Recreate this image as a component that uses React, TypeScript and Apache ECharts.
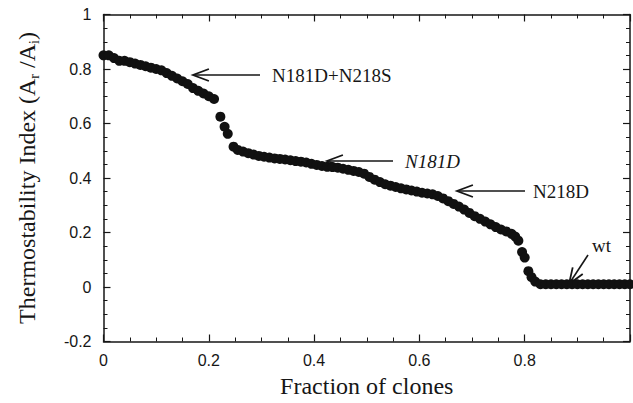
import React, { useEffect, useRef } from "react";
import * as echarts from "echarts";

// Fraction of clones (x) and thermostability index (y)
const fractions: number[] = [
  0, 0.01, 0.02, 0.03, 0.04, 0.05, 0.06, 0.07, 0.08, 0.09, 0.1, 0.11, 0.12, 0.13, 0.14, 0.15, 0.16, 0.17, 0.18, 0.19, 0.2, 0.21,
  0.222, 0.23, 0.236,
  0.247, 0.255, 0.265, 0.275, 0.285, 0.295, 0.305, 0.315, 0.325, 0.335, 0.345, 0.355, 0.365, 0.375, 0.385, 0.395,
  0.405, 0.415, 0.425, 0.435, 0.445, 0.455, 0.465, 0.475, 0.485, 0.495, 0.505, 0.515, 0.525, 0.535, 0.545,
  0.555, 0.565, 0.575, 0.585, 0.595, 0.605, 0.615, 0.625, 0.635, 0.645, 0.655, 0.665, 0.675, 0.685, 0.695,
  0.705, 0.715, 0.725, 0.735, 0.745, 0.755, 0.765, 0.775, 0.782, 0.788,
  0.795, 0.8, 0.807, 0.813, 0.82,
  0.83, 0.84, 0.85, 0.86, 0.87, 0.88, 0.89, 0.9, 0.91, 0.92, 0.93, 0.94, 0.95, 0.96, 0.97, 0.98, 0.99, 1.0,
];
const indexValues: number[] = [
  0.85, 0.85, 0.84, 0.83, 0.83, 0.825, 0.82, 0.815, 0.81, 0.805, 0.8, 0.795, 0.785, 0.775, 0.765, 0.755, 0.745, 0.73, 0.72, 0.71, 0.7, 0.69,
  0.625, 0.588, 0.562,
  0.515, 0.503, 0.497, 0.491, 0.486, 0.481, 0.478, 0.475, 0.472, 0.47, 0.468, 0.465, 0.462, 0.46, 0.457, 0.452,
  0.448, 0.444, 0.441, 0.44, 0.438, 0.434, 0.43, 0.426, 0.422, 0.416, 0.404, 0.394, 0.385, 0.377, 0.372,
  0.367, 0.362, 0.358, 0.354, 0.35, 0.346, 0.343, 0.34, 0.334, 0.325, 0.315, 0.305, 0.295, 0.284, 0.272,
  0.26, 0.25, 0.24, 0.23, 0.22, 0.211, 0.204, 0.195, 0.185, 0.17,
  0.128, 0.108, 0.058, 0.036, 0.02,
  0.01, 0.01, 0.01, 0.01, 0.01, 0.01, 0.01, 0.01, 0.01, 0.01, 0.01, 0.01, 0.01, 0.01, 0.01, 0.01, 0.01, 0.01,
];

const xTitle = "Fraction of clones";
const yTitle = "{a|Thermostability Index (A}{s|r}{a| /A}{s|i}{a|)}";
const annotations = ["N181D+N218S", "N181D", "N218D", "wt"];

const SERIF = "Liberation Serif";
const SANS = "Liberation Sans";
const INK = "#161616";

function arrow(tail: [number, number], tip: [number, number]) {
  const ang = Math.atan2(tip[1] - tail[1], tip[0] - tail[0]);
  const len = 17;
  const spread = 0.36;
  const w1: [number, number] = [tip[0] - len * Math.cos(ang - spread), tip[1] - len * Math.sin(ang - spread)];
  const w2: [number, number] = [tip[0] - len * Math.cos(ang + spread), tip[1] - len * Math.sin(ang + spread)];
  return [
    { type: "line", shape: { x1: tail[0], y1: tail[1], x2: tip[0], y2: tip[1] }, style: { stroke: INK, lineWidth: 1.6 } },
    { type: "polyline", shape: { points: [w1, tip, w2] }, style: { stroke: INK, lineWidth: 1.8, fill: null } },
  ];
}

function label(text: string, x: number, y: number, italic = false) {
  return {
    type: "text",
    x,
    y,
    style: {
      text,
      fontFamily: SERIF,
      fontSize: 19,
      fontStyle: italic ? "italic" : "normal",
      fill: INK,
      verticalAlign: "middle",
    },
  };
}

export default function App() {
  const ref = useRef<HTMLDivElement>(null);
  useEffect(() => {
    if (!ref.current) return;
    const chart = echarts.init(ref.current, undefined, { renderer: "svg" });
    const data = fractions.map((f, i) => [f, indexValues[i]]);
    const axisLine = { show: true, onZero: false, lineStyle: { color: INK, width: 1.5 } };
    const axisTick = { show: true, inside: true, length: 7, lineStyle: { color: INK, width: 1.2 } };
    const minorTick = { show: true, splitNumber: 4, length: 4, lineStyle: { color: INK, width: 1 } };
    chart.setOption({
      animation: false,
      backgroundColor: "#ffffff",
      grid: { left: 103.5, right: 3, top: 14.5, bottom: 55.5 },
      xAxis: [
        {
          type: "value", min: 0, max: 1, interval: 0.2, position: "bottom",
          axisLine, axisTick, minorTick, splitLine: { show: false },
          axisLabel: { show: true, showMaxLabel: false, margin: 11, fontSize: 16, fontFamily: SANS, color: INK },
          name: xTitle, nameLocation: "middle", nameGap: 32.5,
          nameTextStyle: { fontSize: 24, fontFamily: SERIF, color: INK },
        },
        {
          type: "value", min: 0, max: 1, interval: 0.2, position: "top",
          axisLine, axisTick, minorTick, splitLine: { show: false }, axisLabel: { show: false },
        },
      ],
      yAxis: [
        {
          type: "value", min: -0.2, max: 1, interval: 0.2, position: "left",
          axisLine, axisTick, minorTick, splitLine: { show: false },
          axisLabel: { show: true, margin: 12, fontSize: 16, fontFamily: SANS, color: INK },
          name: yTitle, nameLocation: "middle", nameRotate: 90, nameGap: 62,
          nameTextStyle: {
            rich: {
              a: { fontSize: 24, fontFamily: SERIF, color: INK, lineHeight: 30 },
              s: { fontSize: 14, fontFamily: SERIF, color: INK, verticalAlign: "bottom" },
            },
          },
        },
        {
          type: "value", min: -0.2, max: 1, interval: 0.2, position: "right",
          axisLine, axisTick, minorTick, splitLine: { show: false }, axisLabel: { show: false },
        },
      ],
      series: [
        {
          type: "scatter",
          data,
          symbol: "circle",
          symbolSize: 10,
          itemStyle: { color: "#111111", opacity: 1 },
          clip: false,
          silent: true,
        },
      ],
      graphic: [
        ...arrow([260, 75], [193, 75]),
        ...arrow([393, 161], [327, 161]),
        ...arrow([525, 191], [457, 191]),
        ...arrow([588, 255], [569, 284]),
        label(annotations[0], 272, 75),
        label(annotations[1], 405, 161, true),
        label(annotations[2], 533, 191),
        label(annotations[3], 592, 245),
      ],
    });
    return () => chart.dispose();
  }, []);
  return <div ref={ref} style={{ position: "fixed", left: 0, top: 0, width: 633, height: 403, background: "#fff" }} />;
}
